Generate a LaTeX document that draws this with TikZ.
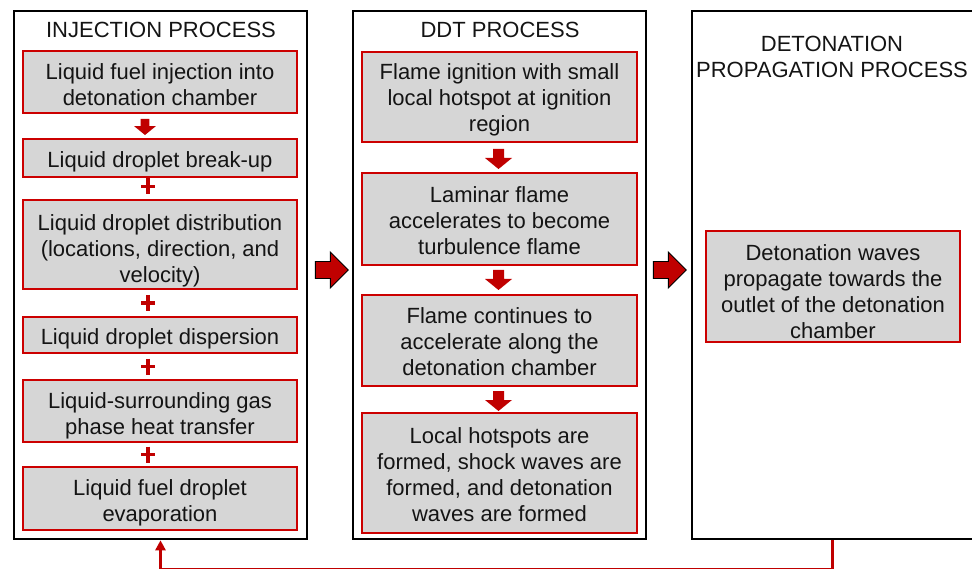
\documentclass[tikz,border=0pt]{standalone}
\usepackage{fontspec}
\setmainfont{Liberation Sans}
\usetikzlibrary{calc,arrows.meta}
\definecolor{boxred}{RGB}{204,0,0}
\definecolor{boxgray}{RGB}{214,214,214}
\definecolor{arrred}{RGB}{192,0,0}
\definecolor{txt}{RGB}{20,20,20}
% centred lines of stage text, lowered a little inside the box
\newcommand{\stagetext}[2][-4pt]{\raisebox{#1}[\height][\depth]{\begin{tabular}{@{}c@{}}#2\end{tabular}}}
\begin{document}
\begin{tikzpicture}[x=1pt,y=-1pt,
  font=\fontsize{22}{26}\selectfont,
  panel/.style={draw=black, line width=2.6pt, inner sep=0pt},
  title/.style={align=center, text=txt, inner sep=0pt},
  stage/.style={draw=boxred, fill=boxgray, line width=1.8pt,
                inner sep=0pt, text=txt},
  dnarrow/.pic={\fill[arrred] (-5.5,-10) -- (5.5,-10) -- (5.5,-1) -- (13.5,-1)
                -- (0,10) -- (-13.5,-1) -- (-5.5,-1) -- cycle;},
  plussign/.pic={\draw[arrred, line width=3.8pt] (-7,0) -- (7,0) (0,-8) -- (0,8);},
  bigarrow/.pic={\filldraw[fill=arrred, draw=black, line width=0.9pt]
                (0,-8.5) -- (15,-8.5) -- (15,-18) -- (33,0) -- (15,18)
                -- (15,8.5) -- (0,8.5) -- cycle;},
  feedback/.style={draw=arrred, line width=3pt, -{Triangle[length=10pt,width=10pt]}},
]
\useasboundingbox (0,0) rectangle (972,569);

% process panels
\node[panel, minimum width=293pt, minimum height=528pt] (P1) at (160.5,275) {};
\node[panel, minimum width=293pt, minimum height=528pt] (P2) at (499.5,275) {};
\node[panel, minimum width=281pt, minimum height=528pt] (P3) at (832.5,275) {};

% panel titles
\node[title] (T1) at (161,30) {INJECTION PROCESS};
\node[title] (T2) at (500,30) {DDT PROCESS};
\node[title] (T3) at (832,56.5) {DETONATION\\PROPAGATION PROCESS};

% injection stages
\node[stage, minimum width=274pt, minimum height=62pt] (i1) at (160,82)
  {\stagetext[-5pt]{Liquid fuel injection into\\detonation chamber}};
\node[stage, minimum width=274pt, minimum height=38pt] (i2) at (160,158)
  {\stagetext{Liquid droplet break-up}};
\node[stage, minimum width=274pt, minimum height=89pt] (i3) at (160,244.5)
  {\stagetext[-7pt]{Liquid droplet distribution\\(locations, direction, and\\velocity)}};
\node[stage, minimum width=274pt, minimum height=36pt] (i4) at (160,335)
  {\stagetext{Liquid droplet dispersion}};
\node[stage, minimum width=274pt, minimum height=62pt] (i5) at (160,411)
  {\stagetext[-5pt]{Liquid-surrounding gas\\phase heat transfer}};
\node[stage, minimum width=274pt, minimum height=63pt] (i6) at (160,498.5)
  {\stagetext[-5pt]{Liquid fuel droplet\\evaporation}};

% DDT stages
\node[stage, minimum width=275pt, minimum height=90pt] (d1) at (499.5,97)
  {\stagetext[-3pt]{Flame ignition with small\\local hotspot at ignition\\region}};
\node[stage, minimum width=275pt, minimum height=92pt] (d2) at (499.5,219)
  {\stagetext{Laminar flame\\accelerates to become\\turbulence flame}};
\node[stage, minimum width=275pt, minimum height=91pt] (d3) at (499.5,340.5)
  {\stagetext{Flame continues to\\accelerate along the\\detonation chamber}};
\node[stage, minimum width=275pt, minimum height=120pt] (d4) at (499.5,473)
  {\stagetext{Local hotspots are\\formed, shock waves are\\formed, and detonation\\waves are formed}};

% detonation propagation stage
\node[stage, minimum width=254pt, minimum height=111pt] (r1) at (833,286.5)
  {\stagetext[-8pt]{Detonation waves\\propagate towards the\\outlet of the detonation\\chamber}};

% links inside the injection panel
\pic[scale=0.8] at ($(i1.south)!0.5!(i2.north)+(-15,1)$) {dnarrow};
\pic at ($(i2.south)!0.5!(i3.north)+(-12,-2)$) {plussign};
\pic at ($(i3.south)!0.5!(i4.north)+(-12,0)$) {plussign};
\pic at ($(i4.south)!0.5!(i5.north)+(-12,0)$) {plussign};
\pic at ($(i5.south)!0.5!(i6.north)+(-12,0)$) {plussign};

% links inside the DDT panel
\pic at ($(d1.south)!0.5!(d2.north)+(-1,1.5)$) {dnarrow};
\pic at ($(d2.south)!0.5!(d3.north)+(-1,0)$) {dnarrow};
\pic at ($(d3.south)!0.5!(d4.north)+(-1,1.5)$) {dnarrow};

% transitions between panels
\pic at ($(P1.east)+(7,-5)$) {bigarrow};
\pic at ($(P2.east)+(6,-5)$) {bigarrow};

% feedback from propagation back to injection
\draw[feedback] (P3.south) -- ++(0,29.5) -| (P1.south);
\end{tikzpicture}
\end{document}
